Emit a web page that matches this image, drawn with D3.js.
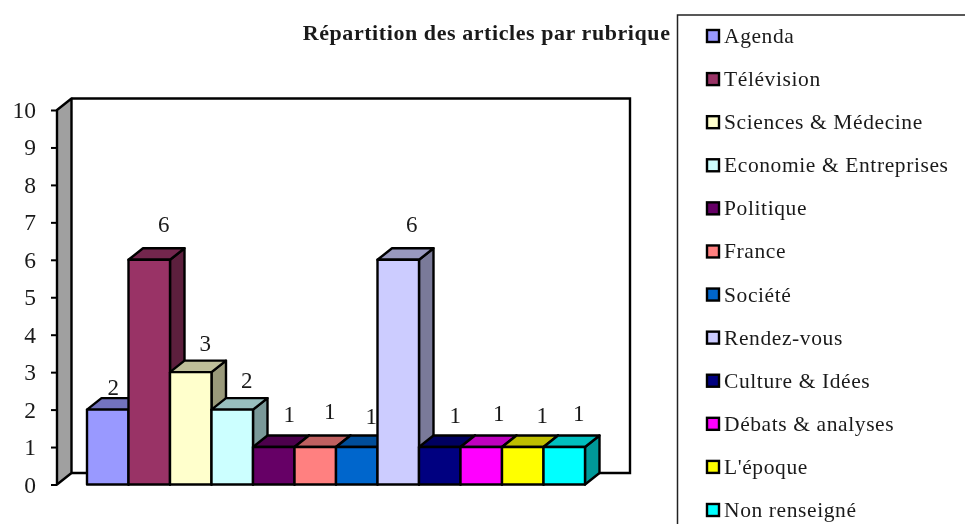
<!DOCTYPE html>
<html>
<head>
<meta charset="utf-8">
<script src="https://cdn.jsdelivr.net/npm/d3@7"></script>
<style>
  html, body { margin: 0; padding: 0; background: #fff; overflow: hidden; }
  svg { display: block; filter: blur(0.45px); }
  text { font-family: "Liberation Serif", serif; fill: #1a1a1a; }
</style>
</head>
<body>
<svg id="chart" width="965" height="524"></svg>
<script>
const categories = ["Agenda", "Télévision", "Sciences & Médecine", "Economie & Entreprises",
  "Politique", "France", "Société", "Rendez-vous", "Culture & Idées", "Débats & analyses",
  "L'époque", "Non renseigné"];
const values = [2, 6, 3, 2, 1, 1, 1, 6, 1, 1, 1, 1];
const colors = ["#9999FF", "#993366", "#FFFFCC", "#CCFFFF", "#660066", "#FF8080",
  "#0066CC", "#CCCCFF", "#000080", "#FF00FF", "#FFFF00", "#00FFFF"];
const yTicks = [0, 1, 2, 3, 4, 5, 6, 7, 8, 9, 10];
const titleText = "Répartition des articles par rubrique";

const svg = d3.select("#chart");

const xScale = d3.scaleBand().domain(categories).range([87, 585]).padding(0);
const yScale = d3.scaleLinear().domain([0, 10]).range([484.5, 110]);

// 3D offset of the box and bars
const dx = 14.5, dy = -11.5;
const wallLeft = 57, wallRight = 630 - dx;
const shade = (c, k) => { const r = d3.rgb(c); return d3.rgb(r.r * k, r.g * k, r.b * k).formatHex(); };
const poly = pts => pts.map(p => p.join(",")).join(" ");

const y0 = yScale(0), y10 = yScale(10);

// side wall
svg.append("polygon")
  .attr("points", poly([[wallLeft, y0], [wallLeft + dx, y0 + dy], [wallLeft + dx, y10 + dy], [wallLeft, y10]]))
  .attr("fill", "#a0a0a0").attr("stroke", "#000").attr("stroke-width", 2.4).attr("stroke-linejoin", "round");

// back wall, only the three visible edges
svg.append("path")
  .attr("d", `M${wallLeft + dx},${y0 + dy}H${wallRight + dx}V${y10 + dy}H${wallLeft + dx}`)
  .attr("fill", "none").attr("stroke", "#000").attr("stroke-width", 2.4);

// y axis
const yAxis = svg.append("g")
  .attr("transform", `translate(${wallLeft},0)`)
  .call(d3.axisLeft(yScale).tickValues(yTicks).tickFormat(d3.format("d")).tickSize(6).tickPadding(15));
yAxis.select(".domain").remove();
yAxis.selectAll("line").attr("stroke", "#000").attr("stroke-width", 2);
yAxis.selectAll("text").attr("font-size", 23.5).attr("font-family", "Liberation Serif").attr("fill", "#1a1a1a");

// bars, left to right so each front covers the previous side
const w = xScale.bandwidth();
const bars = svg.append("g").selectAll("g").data(categories).enter().append("g")
  .attr("stroke", "#000").attr("stroke-width", 2.4).attr("stroke-linejoin", "round");

bars.append("polygon") // side
  .attr("points", (d, i) => {
    const x = xScale(d) + w, t = yScale(values[i]);
    return poly([[x, y0], [x + dx, y0 + dy], [x + dx, t + dy], [x, t]]);
  })
  .attr("fill", (d, i) => shade(colors[i], 0.6));
bars.append("polygon") // top
  .attr("points", (d, i) => {
    const x = xScale(d), t = yScale(values[i]);
    return poly([[x, t], [x + dx, t + dy], [x + w + dx, t + dy], [x + w, t]]);
  })
  .attr("fill", (d, i) => shade(colors[i], 0.75));
bars.append("rect") // front
  .attr("x", d => xScale(d))
  .attr("y", (d, i) => yScale(values[i]))
  .attr("width", w)
  .attr("height", (d, i) => y0 - yScale(values[i]))
  .attr("fill", (d, i) => colors[i]);

// value labels sit above the top face, a bit uneven in the original
const labelNudge = [-9, 0, 0, 0, 1, 0, 0, -1, 1, 3, 5, 0];
const labelLift = [3, 16, 10, 10, 14, 17, 12, 16, 13, 14.5, 13, 14.5];
svg.append("g").selectAll("text").data(categories).enter().append("text")
  .attr("x", (d, i) => xScale(d) + w / 2 + dx + labelNudge[i])
  .attr("y", (d, i) => yScale(values[i]) + dy - labelLift[i])
  .attr("text-anchor", "middle")
  .attr("font-size", 23)
  .text((d, i) => values[i]);

// title
svg.append("text")
  .attr("x", 670.5).attr("y", 40)
  .attr("text-anchor", "end")
  .attr("font-size", 22)
  .attr("font-weight", "bold")
  .attr("letter-spacing", 0.57)
  .text(titleText);

// legend, box runs off the picture on the right and bottom
svg.append("rect")
  .attr("x", 677.5).attr("y", 15)
  .attr("width", 320).attr("height", 540)
  .attr("fill", "#fff").attr("stroke", "#222").attr("stroke-width", 1.5);

const legendY = d3.scalePoint().domain(categories).range([36, 510]);
const legend = svg.append("g").selectAll("g").data(categories).enter().append("g")
  .attr("transform", d => `translate(0,${legendY(d)})`);
legend.append("rect")
  .attr("x", 707).attr("y", -6).attr("width", 12).attr("height", 12)
  .attr("fill", (d, i) => colors[i])
  .attr("stroke", "#000").attr("stroke-width", 2.4);
legend.append("text")
  .attr("x", 724).attr("y", 7)
  .attr("font-size", 21.5)
  .attr("letter-spacing", 0.6)
  .text(d => d);
</script>
</body>
</html>
